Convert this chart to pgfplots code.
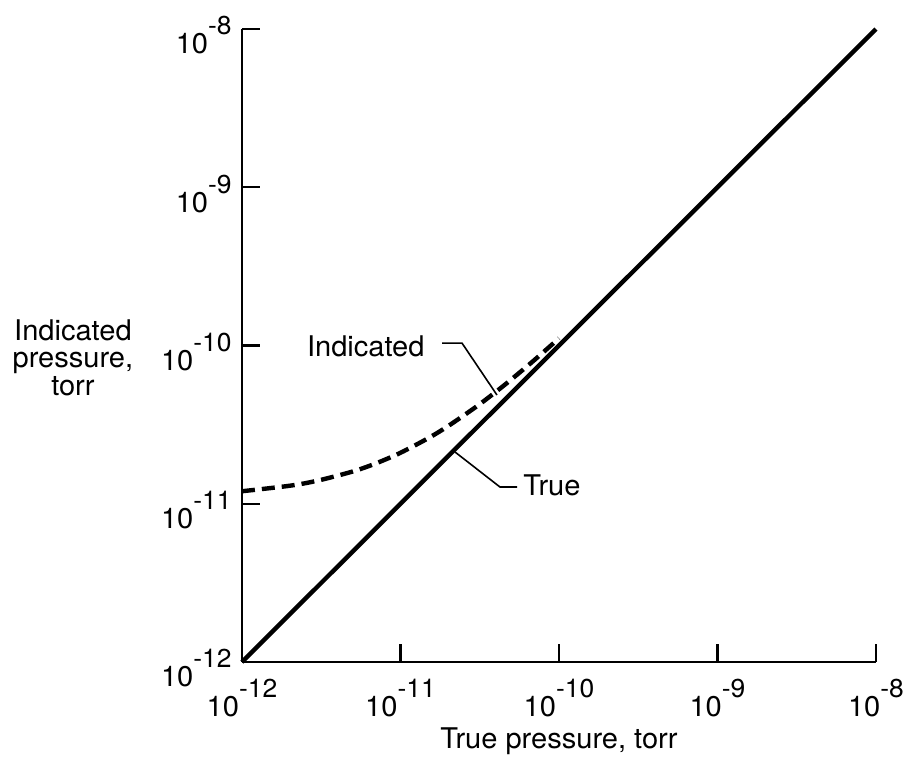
\documentclass[border=0pt]{standalone}
\usepackage{fontspec}
\setmainfont[FakeStretch=1.02]{TeX Gyre Heros}
\usepackage{pgfplots}
\pgfplotsset{compat=1.18}
\newcommand{\tl}[1]{10\raisebox{9.5bp}{\fontsize{13}{13}\selectfont -#1}}
\begin{document}
\fontsize{14.3}{13.8}\selectfont
\begin{tikzpicture}
\begin{axis}[
  name=ax,
  scale only axis, width=317bp, height=316.5bp,
  xmode=log, ymode=log,
  xmin=1e-12, xmax=1e-8, ymin=1e-12, ymax=1e-8,
  axis x line=bottom, axis y line=left,
  axis line style={-, line width=1.2bp},
  xtick={1e-12,1e-11,1e-10,1e-9,1e-8},
  ytick={1e-12,1e-11,1e-10,1e-9,1e-8},
  minor xtick={}, minor ytick={}, minor tick length=0pt,
  xticklabels={\tl{12},\tl{11},\tl{10},\tl{9},\tl{8}},
  yticklabels={\tl{12},\tl{11},\tl{10},\tl{9},\tl{8}},
  tick align=inside, major tick length=9bp,
  tick style={line width=1.1bp, black},
  xticklabel style={anchor=north, inner sep=0pt, yshift=-8.5bp},
  yticklabel style={anchor=east, inner sep=0pt, xshift=-5bp, yshift=-3.25bp},
  every axis x label/.style={at={(rel axis cs:0.5,-0.1027)}, anchor=north, inner sep=0pt},
  every axis y label/.style={at={(rel axis cs:-0.2666,0.5419)}, anchor=north, align=center, inner sep=0pt},
  xlabel={True pressure, torr},
  ylabel={Indicated\\pressure,\\torr},
  clip=false,
]
\addplot[black, line width=2.2bp] coordinates {(1e-12,1e-12) (1e-8,1e-8)};
\addplot[black, line width=2.2bp, dash pattern=on 6.5bp off 3.5bp, smooth] coordinates {
  (1e-12,1.2e-11) (2e-12,1.3e-11) (3e-12,1.4e-11) (5e-12,1.6e-11) (7e-12,1.8e-11)
  (1e-11,2.1e-11) (1.5e-11,2.6e-11) (2e-11,3.1e-11) (3e-11,4.1e-11) (4e-11,5.1e-11)
  (5e-11,6.1e-11) (7e-11,8.1e-11) (1e-10,1.11e-10)};
\draw[line width=0.8bp] (rel axis cs:0.3155,0.5039) -- (rel axis cs:0.347,0.5039) -- (rel axis cs:0.4022,0.4218);
\node[anchor=base east, inner sep=0pt] at (rel axis cs:0.2886,0.4834) {Indicated};
\draw[line width=0.8bp] (rel axis cs:0.336,0.3318) -- (rel axis cs:0.4069,0.2765) -- (rel axis cs:0.4338,0.2765);
\node[anchor=base west, inner sep=0pt] at (rel axis cs:0.4432,0.2638) {True};
\end{axis}
\pgfresetboundingbox
\path[use as bounding box] ([shift={(-121bp,-47.5bp)}]ax.south west) rectangle ([shift={(15bp,14.5bp)}]ax.north east);
\end{tikzpicture}
\end{document}
